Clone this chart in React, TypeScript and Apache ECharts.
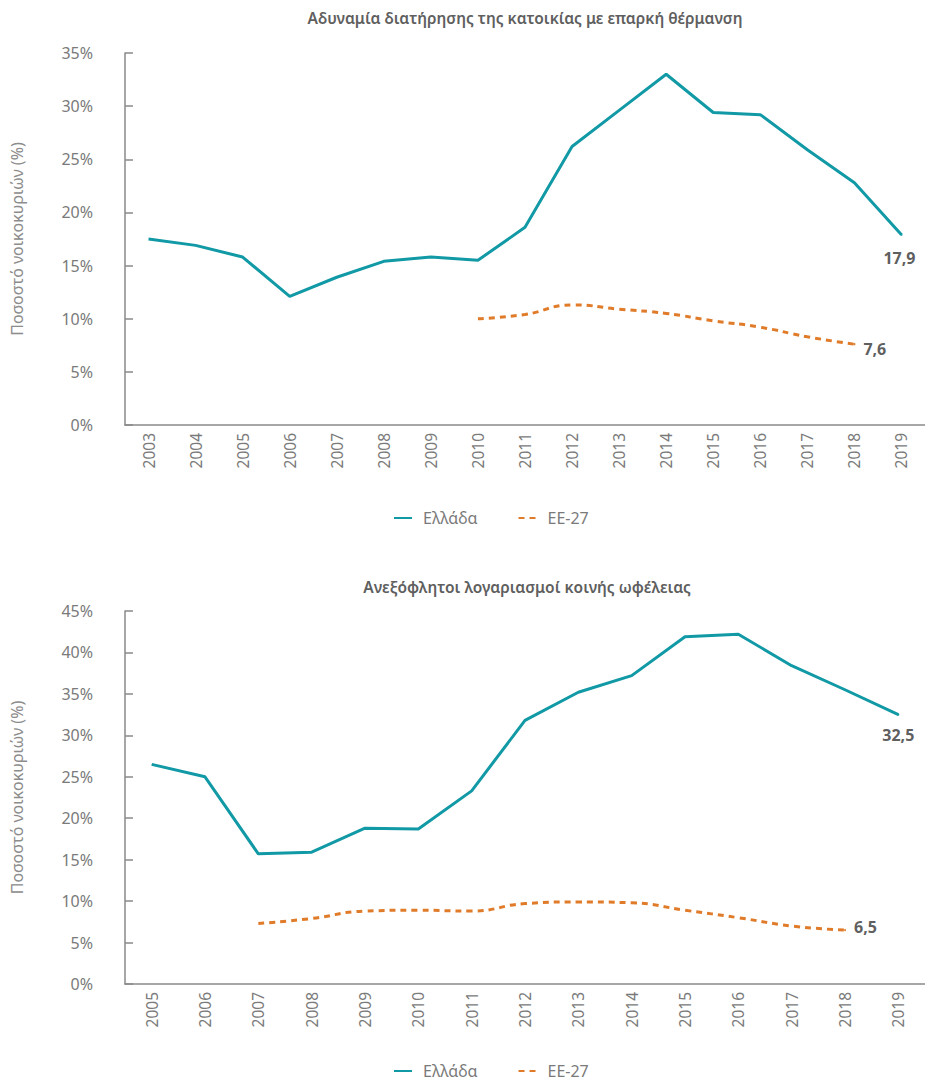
import React, { useEffect, useRef } from "react";
import * as echarts from "echarts";

const title1 = "Αδυναμία διατήρησης της κατοικίας με επαρκή θέρμανση";
const title2 = "Ανεξόφλητοι λογαριασμοί κοινής ωφέλειας";
const yAxisName = "Ποσοστό νοικοκυριών (%)";
const seriesNames = ["Ελλάδα", "ΕΕ-27"];

const years1 = ["2003", "2004", "2005", "2006", "2007", "2008", "2009", "2010", "2011", "2012", "2013", "2014", "2015", "2016", "2017", "2018", "2019"];
const greece1 = [17.5, 16.9, 15.8, 12.1, 13.9, 15.4, 15.8, 15.5, 18.6, 26.2, 29.6, 33.0, 29.4, 29.2, 25.9, 22.8, 17.9];
const eu1 = [null, null, null, null, null, null, null, 10.0, 10.4, 11.3, 10.9, 10.5, 9.8, 9.2, 8.3, 7.6];

const years2 = ["2005", "2006", "2007", "2008", "2009", "2010", "2011", "2012", "2013", "2014", "2015", "2016", "2017", "2018", "2019"];
const greece2 = [26.5, 25.0, 15.7, 15.9, 18.8, 18.7, 23.3, 31.8, 35.2, 37.2, 41.9, 42.2, 38.4, 35.5, 32.5];
const eu2 = [null, null, 7.3, 7.9, 8.8, 8.9, 8.8, 9.7, 9.9, 9.8, 8.9, 8.0, 7.0, 6.5];

const TEAL = "#1199A6";
const ORANGE = "#E07B2A";
const TEXT = "#5f5f5f";
const LIGHT = "#7a7a7a";
const FONT = "Noto Sans";

function withEndLabel(arr: (number | null)[], position: string, distance: number, offset: number[], color: string) {
  const last = arr.length - 1;
  return arr.map((v, i) =>
    i === last
      ? {
          value: v,
          symbol: "circle",
          symbolSize: 2,
          itemStyle: { color },
          label: {
            show: true,
            position,
            distance,
            offset,
            formatter: (p: any) => String(p.value).replace(".", ","),
            fontFamily: FONT,
            fontSize: 16,
            fontWeight: "bold",
            color: TEXT,
          },
        }
      : v
  );
}

export default function App() {
  const ref = useRef<HTMLDivElement>(null);
  useEffect(() => {
    if (!ref.current) return;
    const chart = echarts.init(ref.current, null, { renderer: "svg" });
    const grids = [
      { left: 125, right: 0, top: 53, height: 372 },
      { left: 125, right: 0, top: 611, height: 373 },
    ];
    const xAxis = [years1, years2].map((cats, i) => ({
      type: "category",
      gridIndex: i,
      data: cats,
      boundaryGap: true,
      axisLine: { show: true, lineStyle: { color: "#8a8a8a", width: 1.5 } },
      axisTick: { show: false },
      axisLabel: { rotate: 90, margin: 8, color: LIGHT, fontFamily: FONT, fontSize: 15.5 },
    }));
    const yAxis = [35, 45].map((max, i) => ({
      type: "value",
      gridIndex: i,
      min: 0,
      max,
      interval: 5,
      name: yAxisName,
      nameLocation: "middle",
      nameGap: 100,
      nameTextStyle: { color: "#8c8c8c", fontFamily: FONT, fontSize: 16 },
      splitLine: { show: false },
      axisLine: { show: true, lineStyle: { color: "#8a8a8a", width: 1.5 } },
      axisTick: { show: true, inside: true, length: 8, lineStyle: { color: "#8a8a8a", width: 1.5 } },
      axisLabel: { formatter: "{value}%", margin: 32, color: LIGHT, fontFamily: FONT, fontSize: 16 },
    }));
    const greeceStyle = { type: "line", showSymbol: true, symbol: "none", lineStyle: { color: TEAL, width: 3 }, itemStyle: { color: TEAL } };
    const euStyle = {
      type: "line",
      smooth: true,
      showSymbol: true,
      symbol: "none",
      lineStyle: { color: ORANGE, width: 3, type: [6, 5] },
      itemStyle: { color: ORANGE },
    };
    const option: any = {
      animation: false,
      grid: grids,
      xAxis,
      yAxis,
      legend: [510, 1063].map((top) => ({
        left: 393,
        top,
        padding: 0,
        itemGap: 40,
        itemWidth: 18,
        itemHeight: 14,
        itemStyle: { opacity: 0 },
        data: seriesNames,
        textStyle: { color: LIGHT, fontFamily: FONT, fontSize: 16, padding: [0, 0, 0, 6] },
      })),
      graphic: [
        {
          type: "text",
          x: 525,
          y: 18,
          style: { text: title1, fill: TEXT, font: `600 15.5px "${FONT}"`, textAlign: "center", textVerticalAlign: "middle" },
        },
        {
          type: "text",
          x: 527,
          y: 587,
          style: { text: title2, fill: TEXT, font: `600 15.5px "${FONT}"`, textAlign: "center", textVerticalAlign: "middle" },
        },
      ],
      series: [
        { ...greeceStyle, name: seriesNames[0], xAxisIndex: 0, yAxisIndex: 0, data: withEndLabel(greece1, "bottom", 14, [-2, 0], TEAL) },
        { ...euStyle, name: seriesNames[1], xAxisIndex: 0, yAxisIndex: 0, data: withEndLabel(eu1, "right", 8, [0, 5], ORANGE) },
        { ...greeceStyle, name: seriesNames[0], xAxisIndex: 1, yAxisIndex: 1, data: withEndLabel(greece2, "bottom", 11, [0, 0], TEAL) },
        { ...euStyle, name: seriesNames[1], xAxisIndex: 1, yAxisIndex: 1, data: withEndLabel(eu2, "right", 8, [0, -3], ORANGE) },
      ],
    };
    chart.setOption(option);
    return () => chart.dispose();
  }, []);
  return <div ref={ref} style={{ position: "absolute", left: 0, top: 0, width: 925, height: 1086 }} />;
}
